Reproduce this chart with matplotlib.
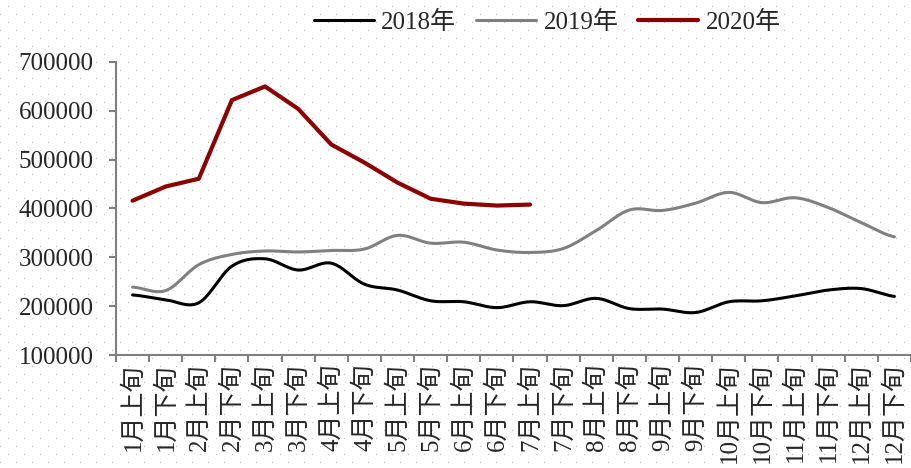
import numpy as np
import matplotlib.pyplot as plt

months = [str(m) for m in range(1, 13)]
categories = [m + '月' + h for m in months for h in ['上旬', '下旬']]

y2018 = [223000, 213000, 207000, 282000, 297000, 274000, 288000, 245000,
         233000, 211000, 209000, 197000, 209000, 201000, 216000, 195000,
         194000, 187000, 209000, 211000, 221000, 233000, 236000, 220000]
y2019 = [239000, 232000, 285000, 306000, 313000, 311000, 314000, 317000,
         345000, 329000, 331000, 315000, 310000, 318000, 355000, 397000,
         396000, 411000, 433000, 412000, 422000, 402000, 371000, 342000]
y2020 = [416000, 445000, 461000, 622000, 650000, 604000, 531000, 494000,
         453000, 420000, 410000, 406000, 408000]

plt.rcParams['font.family'] = ['Liberation Serif', 'Noto Sans CJK SC']
plt.rcParams['font.size'] = 18


def smooth(y, n=20):
    # catmull-rom, like excel's smoothed line
    y = np.asarray(y, dtype=float)
    p = np.concatenate([[y[0]], y, [y[-1]]])
    xs, ys = [], []
    for i in range(len(y) - 1):
        t = np.linspace(0, 1, n, endpoint=False)
        p0, p1, p2, p3 = p[i], p[i + 1], p[i + 2], p[i + 3]
        yy = 0.5 * (2 * p1 + (-p0 + p2) * t + (2 * p0 - 5 * p1 + 4 * p2 - p3) * t ** 2
                    + (-p0 + 3 * p1 - 3 * p2 + p3) * t ** 3)
        xs.append(i + t)
        ys.append(yy)
    xs.append([len(y) - 1])
    ys.append([y[-1]])
    return np.concatenate(xs), np.concatenate(ys)


fig = plt.figure(figsize=(9.12, 4.68), dpi=100)

# dotted background
bg = fig.add_axes([0, 0, 1, 1], zorder=-1)
bg.set_xlim(0, 912)
bg.set_ylim(468, 0)
bg.axis('off')
for r, yy in enumerate(np.arange(5.5, 468, 8)):
    off = 8.3 if r % 2 == 0 else 0.3
    xx = np.arange(off, 912, 16)
    bg.plot(xx, np.full_like(xx, yy), ls='none', marker='s', ms=0.9,
            mec='none', mfc='#c8c8c8')

ax = fig.add_axes([116 / 912, 1 - 355 / 468, 795 / 912, (355 - 62) / 468])
ax.set_facecolor('none')

x = np.arange(len(categories))
sx, sy = smooth(y2018)
ax.plot(sx, sy, color='black', lw=2.2, label='2018年', solid_capstyle='round')
sx, sy = smooth(y2019)
ax.plot(sx, sy, color='#808080', lw=2.2, label='2019年', solid_capstyle='round')
ax.plot(x[:len(y2020)], y2020, color='#8b0000', lw=3, label='2020年',
        solid_capstyle='round', solid_joinstyle='round')

ax.set_xlim(-0.5, len(categories) - 0.5)
ax.set_ylim(100000, 700000)
ax.set_yticks(np.arange(100000, 700001, 100000))
ax.set_yticklabels([str(v) for v in range(100000, 700001, 100000)], color='#262626')
ax.set_xticks(x)
ax.set_xticklabels(categories, rotation=90, color='#262626')
ax.set_xticks(np.arange(-0.5, len(categories), 1), minor=True)
ax.tick_params(axis='x', which='major', length=0, pad=6)
ax.tick_params(axis='x', which='minor', length=5, width=1.5, color='#808080', direction='out')
ax.tick_params(axis='y', length=5, width=1.5, color='#808080', direction='out', pad=11)

for s in ['top', 'right']:
    ax.spines[s].set_visible(False)
for s in ['left', 'bottom']:
    ax.spines[s].set_color('#808080')
    ax.spines[s].set_linewidth(1.5)

fig.legend(loc='upper center', bbox_to_anchor=(0.6, 1.025), ncol=3, frameon=False,
           handlelength=2.4, handletextpad=0.3, columnspacing=0.8, labelcolor='#262626')

fig.savefig('out.png', dpi=100)
